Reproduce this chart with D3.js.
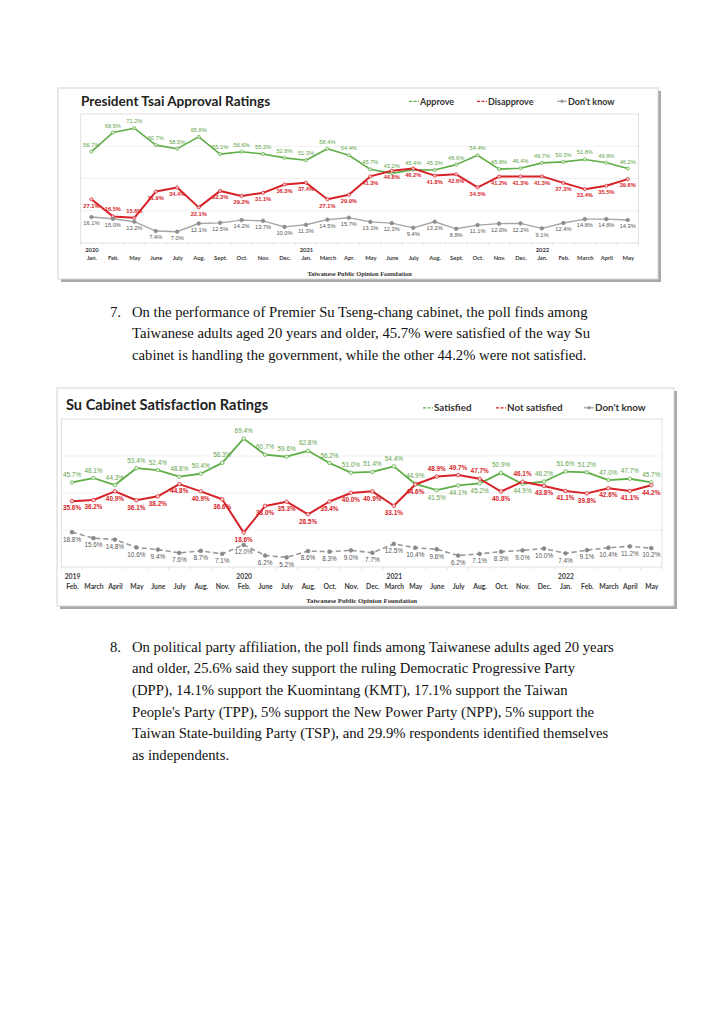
<!DOCTYPE html>
<html><head><meta charset="utf-8">
<script src="https://cdn.jsdelivr.net/npm/d3@7"></script>
<style>body{margin:0;background:#fff}svg{display:block}</style>
</head><body>
<svg id="page" width="724" height="1024"></svg>
<script>
// ---------- Chart 1 data: President Tsai Approval Ratings ----------
const tsaiMonths = ["Jan.","Feb.","May","June","July","Aug.","Sept.","Oct.","Nov.","Dec.","Jan.","March","Apr.","May","June","July","Aug.","Sept.","Oct.","Nov.","Dec.","Jan.","Feb.","March","April","May"];
const tsaiYears = ["2020","","","","","","","","","","2021","","","","","","","","","","","2022","","","",""];
const tsaiApprove = [56.7,68.5,71.2,60.7,58.5,65.8,55.1,56.6,55.2,52.8,51.3,58.4,54.4,45.7,43.2,45.4,45.3,48.6,54.4,45.8,46.4,49.7,50.3,51.8,49.8,46.2];
const tsaiDisapprove = [27.1,16.5,15.6,31.9,34.4,22.1,32.3,29.2,31.1,36.3,37.4,27.1,29.9,41.3,44.8,46.2,41.8,42.6,34.5,41.2,41.3,41.3,37.3,33.4,35.5,39.6];
const tsaiDontKnow = [16.1,15.0,13.2,7.4,7.0,12.1,12.5,14.2,13.7,10.0,11.3,14.5,15.7,13.1,12.3,9.4,13.2,8.8,11.1,12.0,12.2,9.1,12.4,14.8,14.8,14.3];
const tsaiLegend = ["Approve","Disapprove","Don't know"];

// ---------- Chart 2 data: Su Cabinet Satisfaction Ratings ----------
const suMonths = ["Feb.","March","April","May","June","July","Aug.","Nov.","Feb.","June","July","Aug.","Oct.","Nov.","Dec.","March","May","June","July","Aug.","Oct.","Nov.","Dec.","Jan.","Feb.","March","April","May"];
const suYears = ["2019","","","","","","","","2020","","","","","","","2021","","","","","","","","2022","","","",""];
const suSatisfied = [45.7,48.1,44.3,53.4,52.4,48.8,50.4,56.3,69.4,60.7,59.6,62.8,56.2,51.0,51.4,54.4,44.9,41.5,44.1,45.2,50.9,44.9,46.2,51.6,51.2,47.0,47.7,45.7];
const suNotSatisfied = [35.6,36.2,40.9,36.1,38.2,44.8,40.9,36.6,18.6,33.0,35.3,28.5,35.4,40.0,40.9,33.1,44.6,48.9,49.7,47.7,40.8,46.1,43.8,41.1,39.8,42.6,41.1,44.2];
const suDontKnow = [18.8,15.6,14.8,10.6,9.4,7.6,8.7,7.1,12.0,6.2,5.2,8.6,8.3,9.0,7.7,12.5,10.4,9.6,6.2,7.1,8.3,9.0,10.0,7.4,9.1,10.4,11.2,10.2];
const suLegend = ["Satisfied","Not satisfied","Don't know"];

const yTicks = [0,20,40,60,80];
const sourceText = "Taiwanese Public Opinion Foundation";

const para7 = [
  "On the performance of Premier Su Tseng-chang cabinet, the poll finds among",
  "Taiwanese adults aged 20 years and older, 45.7% were satisfied of the way Su",
  "cabinet is handling the government, while the other 44.2% were not satisfied."
];
const para8 = [
  "On political party affiliation, the poll finds among Taiwanese adults aged 20 years",
  "and older, 25.6% said they support the ruling Democratic Progressive Party",
  "(DPP), 14.1% support the Kuomintang (KMT), 17.1% support the Taiwan",
  "People's Party (TPP), 5% support the New Power Party (NPP), 5% support the",
  "Taiwan State-building Party (TSP), and 29.9% respondents identified themselves",
  "as independents."
];

const GREEN = "#5fae47", GREEN_T = "#62a44a", RED = "#d62328", GRAY = "#a6a6a6", GRAY_T = "#555";
const svg = d3.select("#page");

function drawChart(o) {
  const g = svg.append("g");
  g.append("rect").attr("x", o.frame.x + 3).attr("y", o.frame.y + 3).attr("width", o.frame.w).attr("height", o.frame.h).attr("fill", "#a9a9a9");
  g.append("rect").attr("x", o.frame.x).attr("y", o.frame.y).attr("width", o.frame.w).attr("height", o.frame.h).attr("fill", "#fff").attr("stroke", "#d4d4d4").attr("stroke-width", 1);

  const x = d3.scalePoint().domain(d3.range(o.months.length)).range([o.plot.l, o.plot.r]).padding(0.5);
  const y = d3.scaleLinear().domain([0, 80]).range([o.plot.b, o.plot.t]);

  g.append("g").selectAll("line").data(yTicks.slice(1, -1)).join("line")
    .attr("x1", o.plot.l).attr("x2", o.plot.r).attr("y1", d => y(d)).attr("y2", d => y(d))
    .attr("stroke", "#ededed").attr("stroke-width", 0.8);
  g.append("rect").attr("x", o.plot.l).attr("y", o.plot.t).attr("width", o.plot.r - o.plot.l).attr("height", o.plot.b - o.plot.t)
    .attr("fill", "none").attr("stroke", "#d9d9d9").attr("stroke-width", 0.8);

  const step = x.step();
  g.append("g").selectAll("line").data(d3.range(o.months.length + 1)).join("line")
    .attr("x1", i => o.plot.l + i * step).attr("x2", i => o.plot.l + i * step)
    .attr("y1", o.plot.b).attr("y2", o.plot.b + 2.5).attr("stroke", "#d9d9d9").attr("stroke-width", 0.8);

  const monthAxis = d3.axisBottom(x).tickSize(0).tickPadding(0).tickFormat(i => o.months[i]);
  const ma = g.append("g").attr("transform", `translate(0,${o.monthY})`).call(monthAxis);
  ma.select(".domain").remove();
  ma.selectAll("text").attr("dy", 0).attr("font-family", "Lato, 'DejaVu Sans', sans-serif").attr("font-weight", "bold")
    .attr("font-size", o.axisFont).attr("fill", "#3a3a3a");
  const yearAxis = d3.axisBottom(x).tickSize(0).tickPadding(0).tickValues(d3.range(o.years.length).filter(i => o.years[i])).tickFormat(i => o.years[i]);
  const ya = g.append("g").attr("transform", `translate(0,${o.yearY})`).call(yearAxis);
  ya.select(".domain").remove();
  ya.selectAll("text").attr("dy", 0).attr("font-family", "Lato, 'DejaVu Sans', sans-serif").attr("font-weight", "bold")
    .attr("font-size", o.axisFont).attr("fill", "#3a3a3a");

  o.series.forEach(s => {
    const line = d3.line().x((d, i) => x(i)).y(d => y(d));
    g.append("path").datum(s.values).attr("d", line).attr("fill", "none")
      .attr("stroke", s.color).attr("stroke-width", s.width).attr("stroke-linejoin", "round")
      .attr("stroke-dasharray", s.dash || null);
    g.append("g").selectAll("circle").data(s.values).join("circle")
      .attr("cx", (d, i) => x(i)).attr("cy", d => y(d)).attr("r", s.r)
      .attr("fill", s.markerFill).attr("stroke", s.markerStroke).attr("stroke-width", 0.7);
    g.append("g").selectAll("text").data(s.values).join("text")
      .attr("x", (d, i) => x(i)).attr("y", (d, i) => y(d) + (s.above(d, i) ? -o.labelUp : o.labelDown))
      .attr("text-anchor", "middle").attr("font-family", "'Liberation Sans', Arial, sans-serif")
      .attr("font-size", o.labelFont).attr("font-weight", s.bold ? "bold" : "normal")
      .attr("fill", s.labelColor).text(d => d.toFixed(1) + "%");
  });

  g.append("text").attr("x", o.title.x).attr("y", o.title.y).attr("font-family", "Lato, sans-serif").attr("font-weight", "bold")
    .attr("font-size", o.title.size).attr("fill", "#222").text(o.title.text);

  o.legend.forEach((lg, k) => {
    const s = o.series[k];
    const lx = lg.x, ly = o.legendY;
    g.append("line").attr("x1", lx).attr("x2", lx + 10).attr("y1", ly - 3.2).attr("y2", ly - 3.2)
      .attr("stroke", s.color).attr("stroke-width", 1.2).attr("stroke-dasharray", k < 2 ? "3,1.5" : null);
    if (k === 2) g.append("circle").attr("cx", lx + 5).attr("cy", ly - 3.2).attr("r", 1.7).attr("fill", "#999");
    g.append("text").attr("x", lx + 11).attr("y", ly).attr("font-family", "Lato, sans-serif").attr("font-weight", "bold")
      .attr("font-size", o.legendFont).attr("fill", "#333").text(o.legendNames[k]);
  });

  g.append("text").attr("x", (o.plot.l + o.plot.r) / 2).attr("y", o.sourceY).attr("text-anchor", "middle")
    .attr("font-family", "'Liberation Serif', 'Times New Roman', serif").attr("font-weight", "bold").attr("font-size", o.sourceFont)
    .attr("fill", "#333").text(sourceText);
}

drawChart({
  frame: {x: 58, y: 88, w: 600, h: 191},
  plot: {l: 80.7, r: 638.5, t: 114, b: 243},
  months: tsaiMonths, years: tsaiYears,
  yearY: 252, monthY: 260, axisFont: 5.8,
  labelFont: 5.7, labelUp: 5, labelDown: 8.2,
  title: {x: 81, y: 106, size: 13.6, text: "President Tsai Approval Ratings"},
  legendY: 104.5, legendFont: 9, legendNames: tsaiLegend,
  legend: [{x: 409}, {x: 477}, {x: 557}],
  sourceY: 276, sourceFont: 6.4,
  series: [
    {values: tsaiApprove, color: GREEN, labelColor: GREEN_T, width: 1.6, r: 1.6, markerFill: "#d8ecd0", markerStroke: GREEN, bold: false, above: () => true},
    {values: tsaiDisapprove, color: RED, labelColor: RED, width: 2, r: 1.6, markerFill: "#f6caca", markerStroke: RED, bold: true, above: d => d < 20},
    {values: tsaiDontKnow, color: GRAY, labelColor: GRAY_T, width: 1.4, r: 1.8, markerFill: "#8c8c8c", markerStroke: "#8c8c8c", bold: false, above: () => false}
  ]
});

drawChart({
  frame: {x: 57, y: 388, w: 617, h: 218},
  plot: {l: 61.3, r: 662, t: 419, b: 567},
  months: suMonths, years: suYears,
  yearY: 579, monthY: 589, axisFont: 6.8,
  labelFont: 6.4, labelUp: 5.5, labelDown: 9.3,
  title: {x: 66, y: 410, size: 14.6, text: "Su Cabinet Satisfaction Ratings"},
  legendY: 411, legendFont: 9.8, legendNames: suLegend,
  legend: [{x: 423}, {x: 496}, {x: 584}],
  sourceY: 603, sourceFont: 6.8,
  series: [
    {values: suSatisfied, color: GREEN, labelColor: GREEN_T, width: 1.8, r: 1.8, markerFill: "#e2f0dc", markerStroke: GREEN, bold: false, above: (d, i) => d >= suNotSatisfied[i]},
    {values: suNotSatisfied, color: RED, labelColor: RED, width: 2, r: 1.8, markerFill: "#f8d2d2", markerStroke: RED, bold: true, above: (d, i) => d > suSatisfied[i]},
    {values: suDontKnow, color: "#999", labelColor: GRAY_T, width: 1.6, r: 1.9, markerFill: "#888", markerStroke: "#888", bold: false, dash: "5,3", above: () => false}
  ]
});

function para(num, lines, y0, lh) {
  const t = svg.append("g").attr("font-family", "'Liberation Serif', 'Times New Roman', serif").attr("font-size", 14.7).attr("fill", "#111");
  t.append("text").attr("x", 110).attr("y", y0).text(num);
  t.selectAll("text.l").data(lines).join("text").attr("class", "l").attr("x", 132).attr("y", (d, i) => y0 + i * lh).text(d => d);
}
para("7.", para7, 317, 21.3);
para("8.", para8, 651.5, 21.7);
</script>
</body></html>
